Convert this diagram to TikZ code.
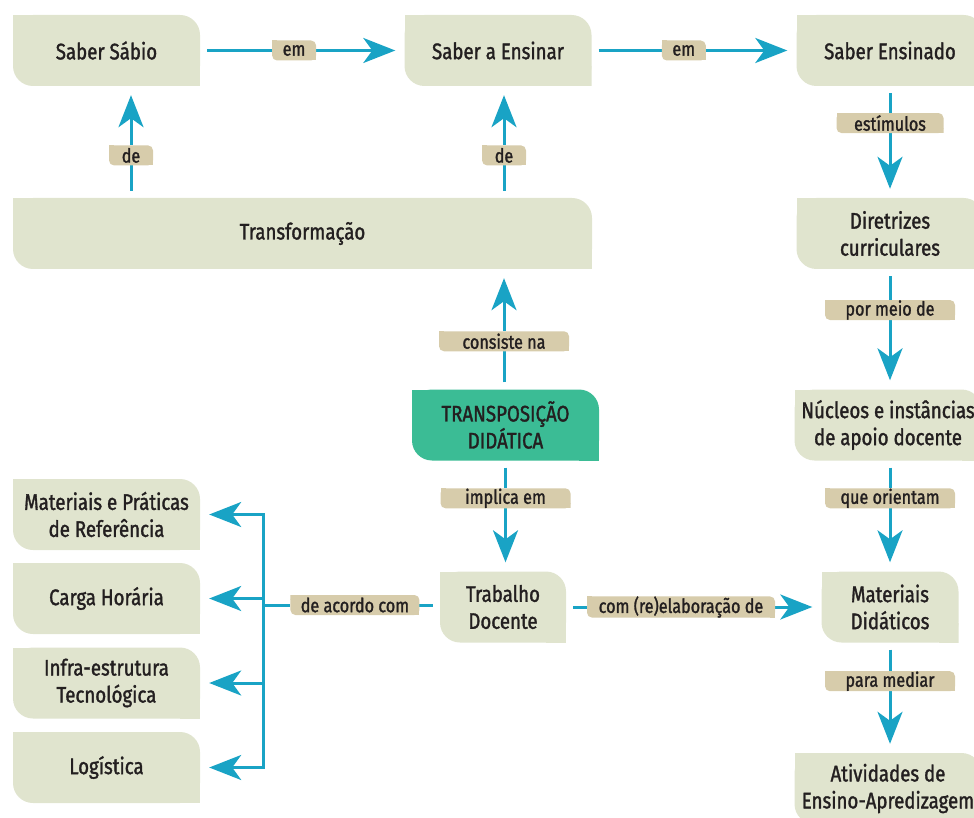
\documentclass[tikz,border=0pt]{standalone}
\usepackage{fontspec}
\setmainfont[FakeStretch=0.83,FakeBold=1.4]{Fira Sans}
\usetikzlibrary{arrows.meta}
\definecolor{boxfill}{HTML}{E0E4CE}
\definecolor{keyfill}{HTML}{3BBC95}
\definecolor{linkblue}{HTML}{19A3C5}
\definecolor{tagfill}{HTML}{D7CCAB}
\definecolor{inkgray}{HTML}{231F20}
\tikzset{
  cut corners/.style 2 args = {fill=white, path picture={
      \fill[#1, rounded corners=#2] (path picture bounding box.south west)
        rectangle (path picture bounding box.north east);
      \fill[#1] (path picture bounding box.north west) rectangle ++(#2,-#2);
      \fill[#1] (path picture bounding box.south east) rectangle ++(-#2,#2);}},
  concept/.style = {cut corners={boxfill}{20pt}, align=center, text=inkgray,
                    minimum width=187pt, minimum height=71pt, inner sep=0pt,
                    font=\fontsize{22.5}{27}\selectfont},
  core/.style    = {concept, cut corners={keyfill}{20pt}},
  tag/.style     = {cut corners={tagfill}{5pt}, text=inkgray,
                    minimum width=44pt, minimum height=20pt, inner sep=0pt,
                    font=\fontsize{19.5}{20}\selectfont},
  widetag/.style = {tag, minimum width=130pt},
  trunk/.style   = {draw=linkblue, line width=3pt},
  link/.style    = {trunk, -{Stealth[length=32pt,width=25pt,inset=9pt]},
                    shorten >=9pt, shorten <=7pt}
}
\begin{document}
\begin{tikzpicture}[x=1pt, y=-1pt]
  \useasboundingbox (0,0) rectangle (974,818);
  % concepts
  \node [concept] (sabio)    at (106.5,50.5) {Saber Sábio};
  \node [concept] (ensinar)  at (498,50.5)   {Saber a Ensinar};
  \node [concept] (ensinado) at (890,50.5)   {Saber Ensinado};
  \node [concept, minimum width=579pt] (transf) at (302.5,233.5) {Transformação};
  \node [concept] (diretrizes) at (890,233.5) {Diretrizes\\curriculares};
  \node [core]    (transp)     at (505.5,425) {TRANSPOSIÇÃO\\DIDÁTICA};
  \node [concept] (nucleos)    at (888,425)   {Núcleos e instâncias\\de apoio docente};
  \node [concept, minimum width=126pt] (trabalho)  at (503,607) {Trabalho\\Docente};
  \node [concept, minimum width=137pt] (materiais) at (890,607) {Materiais\\Didáticos};
  \node [concept] (atividades) at (888,788.5) {Atividades de\\Ensino-Apredizagem};
  \node [concept] (referencia) at (106.5,514.5) {Materiais e Práticas\\de Referência};
  \node [concept] (carga)      at (106.5,598.5) {Carga Horária};
  \node [concept] (infra)      at (106.5,683)   {Infra-estrutura\\Tecnológica};
  \node [concept] (logistica)  at (106.5,767.5) {Logística};
  \coordinate (deA)  at (131,50.5);
  \coordinate (deB)  at (504,50.5);
  \coordinate (eixo) at (890,50.5);
  \coordinate (fork) at (263,605);
  % links
  \draw [link] (sabio)   -- node [tag, pos=.46] {em} (ensinar);
  \draw [link] (ensinar) -- node [tag, pos=.45] {em} (ensinado);
  \draw [link] (transf.north -| deA) -- node [tag, pos=.38] {de} (sabio.south -| deA);
  \draw [link] (transf.north -| deB) -- node [tag, pos=.38] {de} (ensinar.south -| deB);
  \draw [link] (ensinado) -- node [tag, pos=.33, minimum width=107pt] {estímulos} (diretrizes);
  \draw [link] (transp.north -| deB) -- node [widetag, pos=.4] {consiste na} (transf.south -| deB);
  \draw [link] (diretrizes) -- node [widetag, pos=.34] {por meio de} (nucleos.north -| eixo);
  \draw [link] (transp) -- node [widetag, pos=.34] {implica em} (transp |- trabalho.north);
  \draw [link] (nucleos.south -| eixo) -- node [widetag, pos=.34] {que orientam} (materiais);
  \draw [link] (materiais) -- node [widetag, pos=.35] {para mediar} (atividades.north -| eixo);
  \draw [link] (trabalho) -- node [tag, pos=.45, minimum width=188pt] {com (re)elaboração de} (materiais);
  \draw [trunk, shorten <=7pt] (trabalho.west |- fork) -- node [tag, pos=.48, minimum width=129pt] {de acordo com} (fork);
  \draw [trunk, line cap=rect] (fork |- referencia) -- (fork |- logistica);
  \foreach \n in {referencia,carga,infra,logistica}
    \draw [link, shorten <=0pt] (fork |- \n.east) -- (\n.east);
\end{tikzpicture}
\end{document}
